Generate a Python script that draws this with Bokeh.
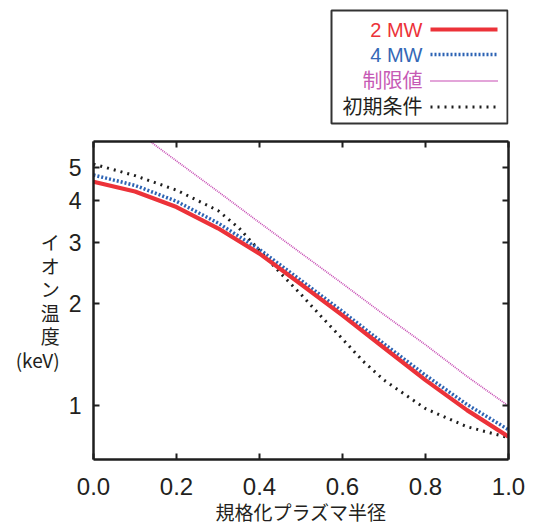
from bokeh.plotting import figure
from bokeh.models import (Range1d, FixedTicker, PrintfTickFormatter, LinearAxis,
                          LogAxis, ColumnDataSource)
from bokeh.layouts import column
from bokeh.embed import file_html
from bokeh.resources import INLINE
from bokeh.core.properties import value

# ---------------- data ----------------
radius = [0.0, 0.1, 0.2, 0.3, 0.4, 0.5, 0.6, 0.7, 0.8, 0.9, 1.0]
ti_2mw = [4.53, 4.24, 3.82, 3.31, 2.79, 2.27, 1.84, 1.48, 1.19, 0.972, 0.813]
ti_4mw = [4.74, 4.42, 3.97, 3.43, 2.87, 2.33, 1.89, 1.52, 1.23, 1.01, 0.852]
limit_radius = [0.1, 0.2, 0.3, 0.4, 0.5, 0.6, 0.7, 0.8, 0.9, 1.0]
ti_limit = [6.41, 5.21, 4.24, 3.44, 2.80, 2.28, 1.85, 1.51, 1.22, 1.00]
init_radius = [0.0, 0.1, 0.2, 0.3, 0.35, 0.4, 0.45, 0.5, 0.55, 0.6, 0.65, 0.7, 0.8, 0.9, 1.0]
ti_init = [5.10, 4.72, 4.28, 3.73, 3.32, 2.85, 2.45, 2.12, 1.82, 1.57, 1.35, 1.19, 0.982, 0.869, 0.808]

series_names = ["2 MW", "4 MW", "制限値", "初期条件"]
x_ticks = [0.0, 0.2, 0.4, 0.6, 0.8, 1.0]
y_ticks = [1, 2, 3, 4, 5]
x_title = "規格化プラズマ半径"
y_title = "イ\nオ\nン\n温\n度\n(keV)"

# ---------------- styles ----------------
RED = "#ec3239"
BLUE = "#2c63b4"
MAG = "#c64bb3"
BLK = "#1e1e1e"
TXT = "#231f20"
styles = [
    dict(color=RED, width=4.2, dash="solid"),
    dict(color=BLUE, width=3.5, dash="2 2"),
    dict(color=MAG, width=1.7, dash="1 1"),
    dict(color=BLK, width=3.0, dash="2 5"),
]
text_colors = [RED, "#3568b6", "#c65ab5", TXT]
LATIN = "Liberation Sans, Noto Sans CJK JP"
CJK = "Noto Sans CJK JP"

W = 540
BL, BR = 93, 32
LEG_H = 130
MAIN_H = 527 - LEG_H
BT, BB = 11, 65

# ---------------- main plot ----------------
p = figure(width=W, height=MAIN_H,
           x_range=Range1d(0, 1), y_range=Range1d(0.697, 5.94),
           y_axis_type="log", output_backend="svg", toolbar_location=None,
           min_border_left=BL, min_border_right=BR,
           min_border_top=BT, min_border_bottom=BB,
           background_fill_color="white", border_fill_color="white")
p.grid.visible = False
p.outline_line_color = None

xs_list = [radius, radius, limit_radius, init_radius]
ys_list = [ti_2mw, ti_4mw, ti_limit, ti_init]
draw_order = [2, 3, 1, 0]
for i in draw_order:
    st = styles[i]
    p.line(xs_list[i], ys_list[i], line_color=st["color"], line_width=st["width"],
           line_dash=st["dash"], line_cap="butt")

xaxis = p.xaxis[0]
yaxis = p.yaxis[0]
xaxis.ticker = FixedTicker(ticks=x_ticks)
xaxis.formatter = PrintfTickFormatter(format="%.1f")
yaxis.ticker = FixedTicker(ticks=y_ticks)
yaxis.formatter = PrintfTickFormatter(format="%d")

top_axis = LinearAxis(ticker=FixedTicker(ticks=x_ticks))
right_axis = LogAxis(ticker=FixedTicker(ticks=y_ticks))
p.add_layout(top_axis, "above")
p.add_layout(right_axis, "right")

for ax in [xaxis, yaxis, top_axis, right_axis]:
    ax.axis_line_width = 2.5
    ax.axis_line_color = BLK
    ax.major_tick_in = 6
    ax.major_tick_out = 0
    ax.major_tick_line_width = 2
    ax.major_tick_line_color = BLK
    ax.minor_tick_line_color = None
    ax.major_label_text_font = LATIN
    ax.major_label_text_color = TXT

for ax in [top_axis, right_axis]:
    ax.major_label_text_font_size = "1px"
    ax.major_label_text_color = None
    ax.major_label_standoff = 0

xaxis.major_label_text_font_size = "24px"
xaxis.major_label_standoff = 18
xaxis.axis_label = x_title
xaxis.axis_label_text_font = CJK
xaxis.axis_label_text_font_size = "19px"
xaxis.axis_label_text_font_style = "normal"
xaxis.axis_label_text_color = TXT
xaxis.axis_label_standoff = 0

yaxis.major_label_text_font_size = "23px"
yaxis.major_label_standoff = 12
yaxis.axis_label = y_title
yaxis.axis_label_orientation = "horizontal"
yaxis.axis_label_text_font = CJK
yaxis.axis_label_text_font_size = "19px"
yaxis.axis_label_text_font_style = "normal"
yaxis.axis_label_text_color = TXT
yaxis.axis_label_text_align = "center"
yaxis.axis_label_text_line_height = 0.87
yaxis.axis_label_standoff = 6

# ---------------- legend (separate panel above the plot, page-pixel coords) ----------------
lg = figure(width=W, height=LEG_H,
            x_range=Range1d(BL, W - BR), y_range=Range1d(LEG_H, 0),
            x_axis_type=None, y_axis_type=None,
            output_backend="svg", toolbar_location=None,
            min_border_left=BL, min_border_right=BR, min_border_top=0, min_border_bottom=0,
            background_fill_color="white", border_fill_color="white")
lg.grid.visible = False
lg.outline_line_color = None

box_l, box_r, box_t, box_b = 331, 507, 10, 123
lg.quad(left=[box_l], right=[box_r], top=[box_t], bottom=[box_b],
        fill_color="white", line_color="#333333", line_width=2)

row_y = [29, 54, 80.5, 106.5]
txt_src = ColumnDataSource(dict(x=[422] * 4, y=row_y, t=series_names, c=text_colors))
lg.text(x="x", y="y", text="t", text_color="c", source=txt_src,
        text_font=value(LATIN), text_font_size="20px",
        text_align="right", text_baseline="middle")
for i in range(4):
    st = styles[i]
    lg.line([430, 497], [row_y[i], row_y[i]], line_color=st["color"],
            line_width=st["width"] if i != 2 else 2.2,
            line_dash=st["dash"], line_cap="butt")

layout = column(lg, p, spacing=0)
open("out.html", "w").write(file_html(layout, INLINE))
